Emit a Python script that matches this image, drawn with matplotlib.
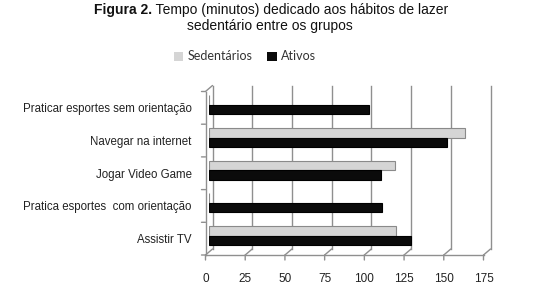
import matplotlib
matplotlib.use('Agg')
import matplotlib.pyplot as plt
from matplotlib.transforms import ScaledTranslation
from matplotlib.patches import ConnectionPatch

categories = ['Assistir TV', 'Pratica esportes  com orientação', 'Jogar Video Game',
              'Navegar na internet', 'Praticar esportes sem orientação']
sedentarios = [118, 0, 117, 161, 0]
ativos = [127, 109, 108, 150, 101]
xticks = [0, 25, 50, 75, 100, 125, 150, 175]
series_names = ['Sedentários', 'Ativos']
title_bold = 'Figura 2.'
title_rest = ' Tempo (minutos) dedicado aos hábitos de lazer'
title_line2 = 'sedentário entre os grupos'

W, H = 559, 307
fig = plt.figure(figsize=(W / 100, H / 100), dpi=100)
fig.patch.set_facecolor('white')

LBL = ['Liberation Sans', 'DejaVu Sans']
TTL = ['Liberation Sans', 'DejaVu Sans']
LEG = ['Lato', 'DejaVu Sans']


def px(x0, y0, x1, y1):
    return [x0 / W, 1 - y1 / H, (x1 - x0) / W, (y1 - y0) / H]


ax = fig.add_axes(px(209, 88.5, 487, 252))
ax.set_xlim(0, 175)
ax.set_ylim(-0.5, 4.5)
for s in ax.spines.values():
    s.set_visible(False)
ax.patch.set_visible(False)


def off(dx, dy):
    return ax.transData + ScaledTranslation(dx / 100, dy / 100, fig.dpi_scale_trans)


back = off(3.5, 3)
front = off(-3.5, -3)
gc = '#8f8f8f'


def seg(p, ta, tb):
    c = ConnectionPatch(xyA=p, coordsA=ta, xyB=p, coordsB=tb, color=gc, lw=1.0,
                        clip_on=False)
    ax.add_artist(c)


# back wall gridlines and floor slants
for v in xticks:
    ax.plot([v, v], [-0.5, 4.5], transform=back, color=gc, lw=1.0, clip_on=False)
    seg((v, -0.5), front, back)
    seg((v, -0.5), front, off(-3.5, -8))
# front left wall edge and top slant
ax.plot([0, 0], [-0.5, 4.5], transform=front, color=gc, lw=1.0, clip_on=False)
seg((0, 4.5), front, back)
ax.plot([0, 175], [-0.5, -0.5], transform=front, color=gc, lw=1.0, clip_on=False)
for b in [-0.5, 0.5, 1.5, 2.5, 3.5, 4.5]:
    seg((0, b), front, off(-7.5, -3))

# bars
h = 0.29
ys = list(range(len(categories)))
b1 = ax.barh([y + h / 2 for y in ys], sedentarios, height=h, color='#d5d5d5',
             edgecolor='#8a8a8a', lw=0.8, label=series_names[0], zorder=3)
b2 = ax.barh([y - h / 2 for y in ys], ativos, height=h, color='#0b0b0b',
             edgecolor='#000000', lw=0.8, label=series_names[1], zorder=3)

# axis ticks / labels
ax.set_xticks(xticks)
ax.set_xticklabels([str(t) for t in xticks], family=LBL, fontsize=8.5, color='#222222')
ax.tick_params(axis='x', length=0, pad=12.5)
for lab in ax.get_xticklabels():
    lab.set_transform(lab.get_transform() + ScaledTranslation(-3.5 / 100, -3.5 / 100, fig.dpi_scale_trans))
ax.set_yticks(ys)
ax.set_yticklabels(categories, family=LBL, fontsize=8.3, color='#222222')
ax.tick_params(axis='y', length=0, pad=10)
for lab in ax.get_yticklabels():
    lab.set_transform(lab.get_transform() + ScaledTranslation(-3.5 / 100, -3 / 100, fig.dpi_scale_trans))

# legend
leg = fig.legend(handles=[b1, b2], labels=series_names, ncol=2, loc='center',
                 bbox_to_anchor=(245 / W, 1 - 56.5 / H), frameon=False,
                 handlelength=0.75, handleheight=0.75, handletextpad=0.35,
                 columnspacing=1.2, prop={'family': LEG, 'size': 9})
for t in leg.get_texts():
    t.set_color('#333333')
for hnd in leg.legend_handles:
    hnd.set_edgecolor('none')

# title
fs = 10
renderer = fig.canvas.get_renderer()
t1 = fig.text(0, 1 - 14 / H, title_bold, family=TTL, fontsize=fs, fontweight='bold',
              va='baseline', ha='left', color='#111111')
t2 = fig.text(0, 1 - 14 / H, title_rest, family=TTL, fontsize=fs,
              va='baseline', ha='left', color='#111111')
w1 = t1.get_window_extent(renderer).width
w2 = t2.get_window_extent(renderer).width
x0 = 271 - (w1 + w2) / 2
t1.set_x(x0 / W)
t2.set_x((x0 + w1) / W)
fig.text(270 / W, 1 - 30 / H, title_line2, family=TTL, fontsize=fs, va='baseline',
         ha='center', color='#111111')

fig.savefig('out.png', dpi=100, facecolor='white')
